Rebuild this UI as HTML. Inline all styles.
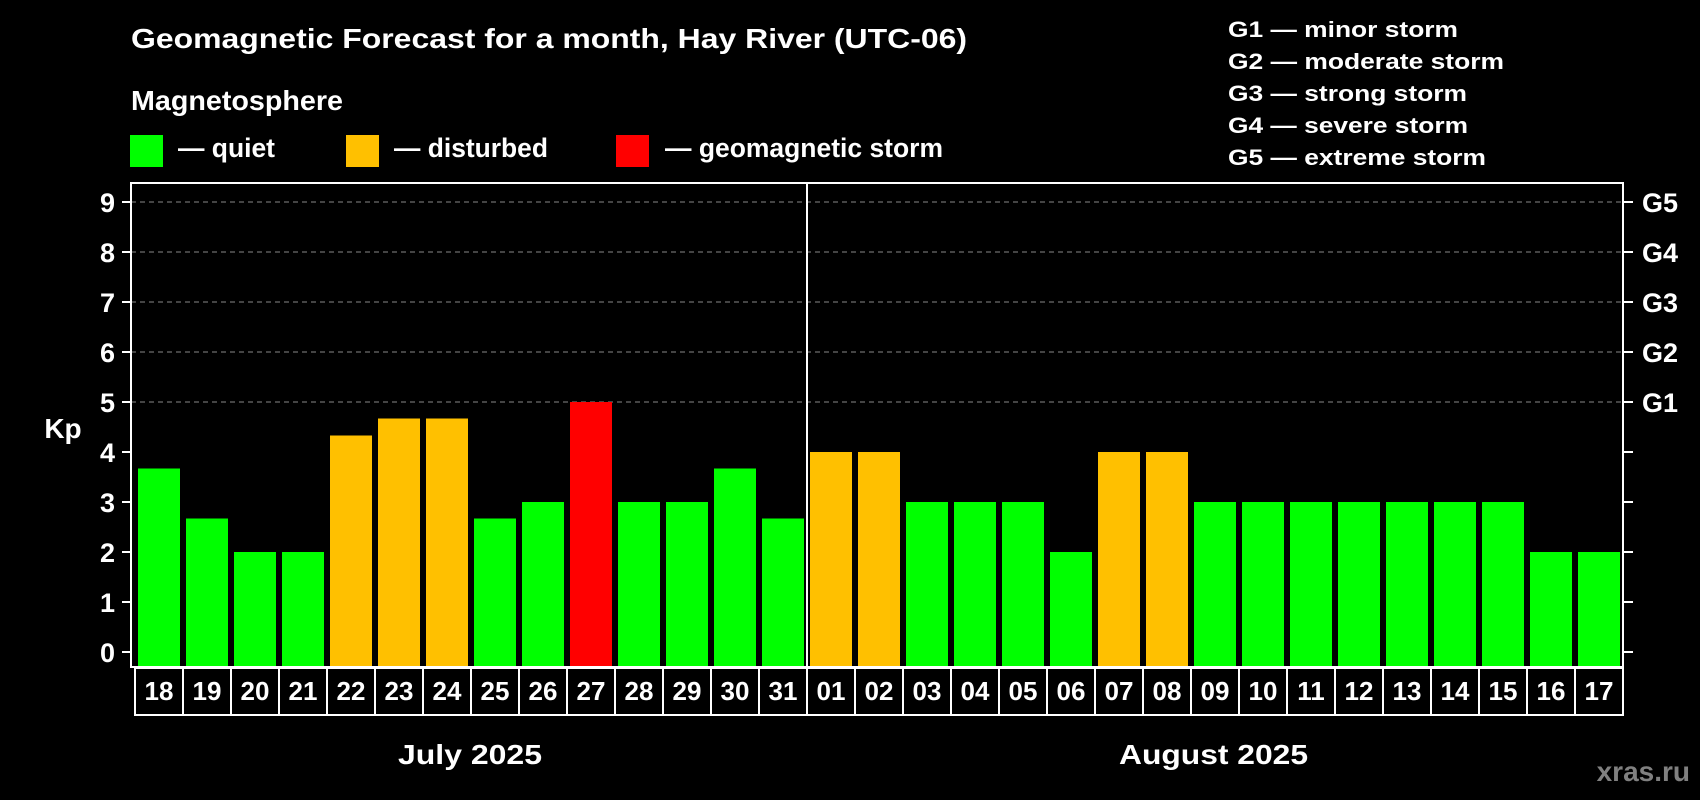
<!DOCTYPE html>
<html><head><meta charset="utf-8"><style>
html,body{margin:0;padding:0;background:#000;}
svg{display:block;font-family:"Liberation Sans",sans-serif;font-weight:bold;}
</style></head><body>
<svg id="chart" width="1700" height="800" viewBox="0 0 1700 800" xmlns="http://www.w3.org/2000/svg">
<rect x="0" y="0" width="1700" height="800" fill="#000"/>
<text x="131" y="48" font-size="28" fill="#fff" textLength="836" lengthAdjust="spacingAndGlyphs">Geomagnetic Forecast for a month, Hay River (UTC-06)</text>
<text x="131" y="110" font-size="28" fill="#fff" textLength="212" lengthAdjust="spacingAndGlyphs">Magnetosphere</text>
<g>
<rect x="130" y="135" width="33" height="32" fill="#00ff00"/>
<text x="178" y="157" font-size="27" fill="#fff" textLength="97" lengthAdjust="spacingAndGlyphs">— quiet</text>
</g>
<g>
<rect x="346" y="135" width="33" height="32" fill="#ffc000"/>
<text x="394" y="157" font-size="27" fill="#fff" textLength="154" lengthAdjust="spacingAndGlyphs">— disturbed</text>
</g>
<g>
<rect x="616" y="135" width="33" height="32" fill="#ff0000"/>
<text x="665" y="157" font-size="27" fill="#fff" textLength="278" lengthAdjust="spacingAndGlyphs">— geomagnetic storm</text>
</g>
<g font-size="22" fill="#fff">
<text x="1228" y="37" textLength="230" lengthAdjust="spacingAndGlyphs">G1 — minor storm</text>
<text x="1228" y="69" textLength="276" lengthAdjust="spacingAndGlyphs">G2 — moderate storm</text>
<text x="1228" y="101" textLength="239" lengthAdjust="spacingAndGlyphs">G3 — strong storm</text>
<text x="1228" y="133" textLength="240" lengthAdjust="spacingAndGlyphs">G4 — severe storm</text>
<text x="1228" y="165" textLength="258" lengthAdjust="spacingAndGlyphs">G5 — extreme storm</text>
</g>
<g id="grid"></g>
<g id="bars"></g>
<g id="axes"></g>
<g id="dates"></g>
<text x="63" y="438" font-size="28" fill="#fff" text-anchor="middle">Kp</text>
<text x="398" y="764" font-size="28" fill="#fff" textLength="144" lengthAdjust="spacingAndGlyphs">July 2025</text>
<text x="1119" y="764" font-size="28" fill="#fff" textLength="189" lengthAdjust="spacingAndGlyphs">August 2025</text>
<text x="1690" y="781" font-size="28" fill="#808080" text-anchor="end">xras.ru</text>
</svg>
<script>
const days = ["18","19","20","21","22","23","24","25","26","27","28","29","30","31","01","02","03","04","05","06","07","08","09","10","11","12","13","14","15","16","17"];
const kpValues = [3.67,2.67,2,2,4.33,4.67,4.67,2.67,3,5,3,3,3.67,2.67,4,4,3,3,3,2,4,4,3,3,3,3,3,3,3,2,2];
const yTicks = [0,1,2,3,4,5,6,7,8,9];
const gLabels = ["G1","G2","G3","G4","G5"];
const gLevels = [5,6,7,8,9];
const monthSplitIndex = 14;

const NS = "http://www.w3.org/2000/svg";
const plotL = 131, plotR = 1623, plotT = 183, plotB = 667;
const slotX0 = 135, slotW = 48, barW = 42;
function yScale(v){ return 652 - v * 50; }
function xSlot(i){ return slotX0 + i * slotW; }
function mk(tag, attrs, parent){
  const el = document.createElementNS(NS, tag);
  for (const k in attrs) el.setAttribute(k, attrs[k]);
  parent.appendChild(el);
  return el;
}
function colorFor(v){ return v >= 5 ? "#ff0000" : (v >= 4 ? "#ffc000" : "#00ff00"); }

const grid = document.getElementById("grid");
gLevels.forEach((lv, i) => {
  const ln = mk("line", {x1: plotL, x2: plotR, y1: yScale(lv), y2: yScale(lv), stroke: "#888", "stroke-width": 1, "stroke-dasharray": "5,4"}, grid);
  
  
});

const bars = document.getElementById("bars");
kpValues.forEach((v, i) => {
  const y = yScale(v);
  const r = mk("rect", {x: xSlot(i) + 3, y: y, width: barW, height: plotB - y, fill: colorFor(v)}, bars);
  
  
});

const axes = document.getElementById("axes");
const box = mk("rect", {x: plotL, y: plotT, width: plotR - plotL, height: plotB - plotT, fill: "none", stroke: "#fff", "stroke-width": 2}, axes);


const div = mk("line", {x1: xSlot(monthSplitIndex), x2: xSlot(monthSplitIndex), y1: plotT, y2: plotB, stroke: "#fff", "stroke-width": 2}, axes);


yTicks.forEach(t => {
  const y = yScale(t);
  const tl = mk("line", {x1: 122, x2: plotL, y1: y, y2: y, stroke: "#fff", "stroke-width": 2}, axes);
  
  
  const tr = mk("line", {x1: plotR, x2: 1633, y1: y, y2: y, stroke: "#fff", "stroke-width": 2}, axes);
  
  
  const lb = mk("text", {x: 115, y: y + 10, "font-size": 27, fill: "#fff", "text-anchor": "end"}, axes);
  lb.textContent = String(t);
  
  
});
gLabels.forEach((g, i) => {
  const lb = mk("text", {x: 1642, y: yScale(gLevels[i]) + 10, "font-size": 27, fill: "#fff"}, axes);
  lb.textContent = g;
  
  
});

const dates = document.getElementById("dates");
days.forEach((d, i) => {
  const r = mk("rect", {x: xSlot(i), y: 668, width: slotW, height: 47, fill: "#000", stroke: "#fff", "stroke-width": 2}, dates);
  
  
  const t = mk("text", {x: xSlot(i) + slotW / 2, y: 700, "font-size": 26, fill: "#fff", "text-anchor": "middle"}, dates);
  t.textContent = d;
  
  
});
</script>
</body></html>
